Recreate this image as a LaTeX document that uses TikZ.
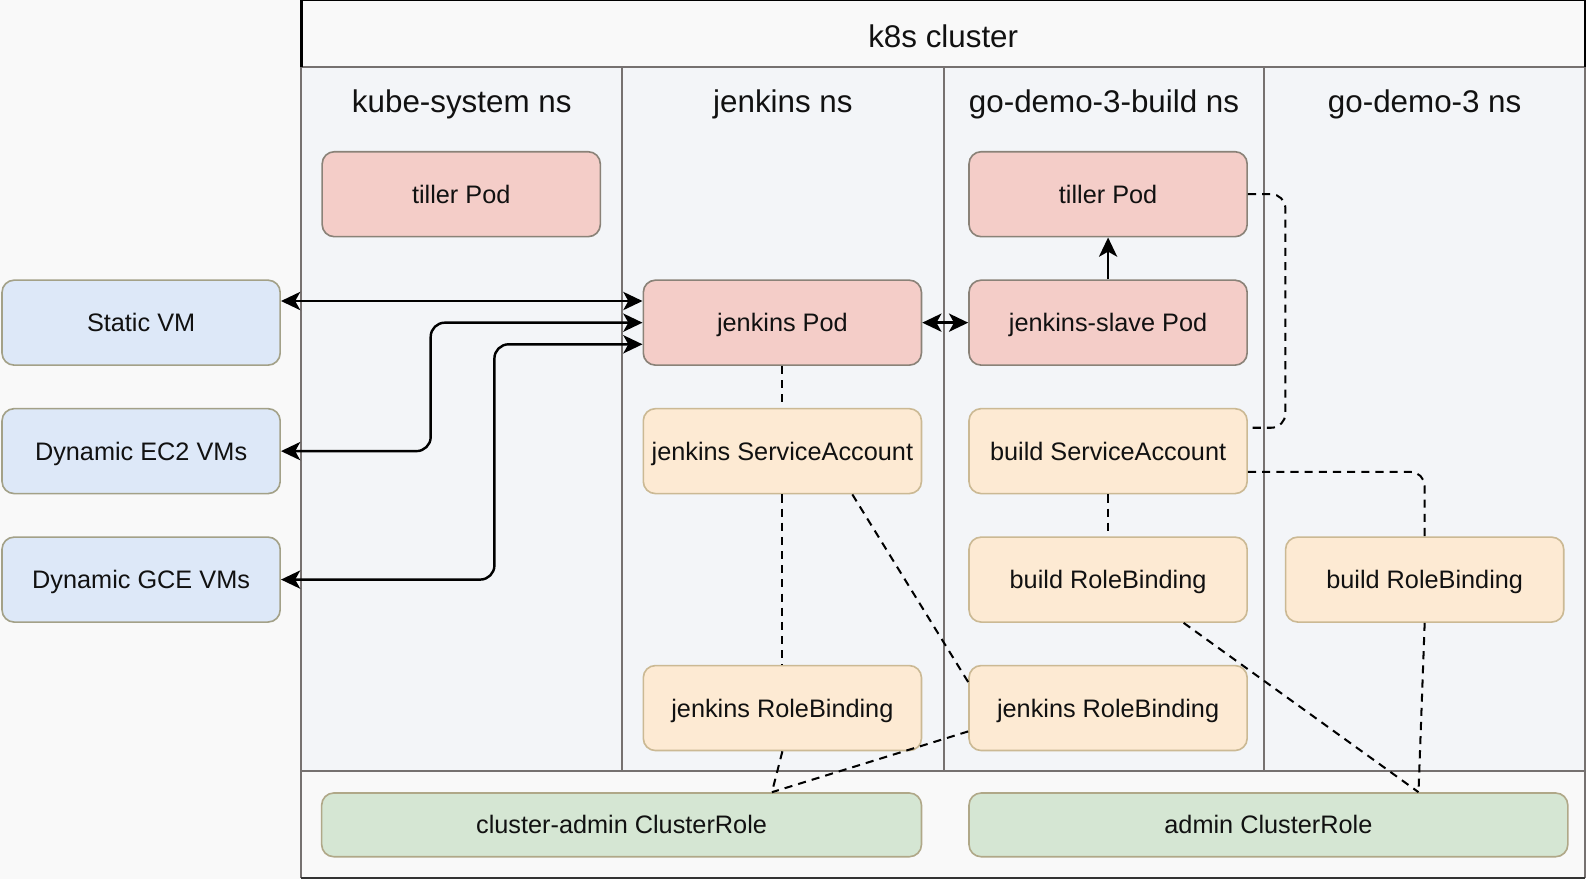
\documentclass[tikz,border=0pt]{standalone}
\usepackage{fontspec}
\setmainfont{Liberation Sans}
\usetikzlibrary{arrows.meta,calc}
\definecolor{pagebg}{HTML}{F9F9F9}
\definecolor{colbg}{HTML}{F3F5F8}
\definecolor{sepgray}{HTML}{767170}
\definecolor{redfill}{HTML}{F4CDC8}
\definecolor{redline}{HTML}{8A8278}
\definecolor{orfill}{HTML}{FDEAD3}
\definecolor{orline}{HTML}{CBB994}
\definecolor{blfill}{HTML}{DDE8F8}
\definecolor{blline}{HTML}{A3A188}
\definecolor{grfill}{HTML}{D5E6D3}
\definecolor{grline}{HTML}{B0A888}
\definecolor{txt}{HTML}{111111}
\tikzset{
  box/.style={rectangle, rounded corners=12pt, line width=1.6pt, minimum width=275pt, minimum height=84pt, inner sep=0pt, text=txt, font=\fontsize{25}{30}\selectfont, text height=20pt, text depth=2pt},
  podbox/.style={box, fill=redfill, draw=redline},
  accbox/.style={box, fill=orfill, draw=orline},
  vmbox/.style={box, fill=blfill, draw=blline},
  rolebox/.style={box, fill=grfill, draw=grline, minimum height=63pt},
  hdr/.style={text=txt, font=\fontsize{31}{36}\selectfont, inner sep=0pt, text height=24pt, text depth=2pt},
  conn/.style={line width=2.4pt, draw=black, rounded corners=14pt, >={Stealth[length=19pt, width=18pt, inset=5pt]}},
  link/.style={line width=2pt, draw=black, dash pattern=on 8pt off 6pt, rounded corners=14pt},
}
\begin{document}
\begin{tikzpicture}[x=1pt, y=-1pt]
\useasboundingbox (0,0) rectangle (1568,869);
\fill[pagebg] (0,0) rectangle (1568,869);
% columns
\fill[colbg] (298,66) rectangle (1567,762);
\draw[sepgray, line width=2pt] (298,66) -- (1567,66);
\draw[sepgray, line width=2pt] (298,762) -- (1567,762);
\foreach \xx in {615,933,1250} \draw[sepgray, line width=2pt] (\xx,66) -- (\xx,762);
\draw[sepgray, line width=2pt] (298,66) -- (298,868);
\draw[sepgray, line width=2pt] (1567,66) -- (1567,868);
% outer frame
\draw[black, line width=2.2pt] (298,66) -- (298,0) -- (1567,0) -- (1567,66);
\draw[black!80, line width=2pt] (298,868) -- (1567,868);
% headers
\node[hdr] (k8s) at (932.5,36) {k8s cluster};
\node[hdr] (hks) at (456.5,100) {kube-system ns};
\node[hdr] (hjn) at (774,100) {jenkins ns};
\node[hdr] (hgb) at (1091.5,100) {go-demo-3-build ns};
\node[hdr] (hgd) at (1408.5,100) {go-demo-3 ns};
% nodes
\node[podbox] (tk) at (456,192) {tiller Pod};
\node[podbox] (tb) at (1095.5,192) {tiller Pod};
\node[vmbox] (sv) at (139.5,319) {Static VM};
\node[vmbox] (ec2) at (139.5,446) {Dynamic EC2 VMs};
\node[vmbox] (gce) at (139.5,573) {Dynamic GCE VMs};
\node[podbox] (jp) at (773.5,319) {jenkins Pod};
\node[podbox] (js) at (1095.5,319) {jenkins-slave Pod};
\node[accbox] (jsa) at (773.5,446) {jenkins ServiceAccount};
\node[accbox] (bsa) at (1095.5,446) {build ServiceAccount};
\node[accbox] (brb) at (1095.5,573) {build RoleBinding};
\node[accbox] (brb3) at (1408.5,573) {build RoleBinding};
\node[accbox] (jrb) at (773.5,700) {jenkins RoleBinding};
\node[accbox] (jrb2) at (1095.5,700) {jenkins RoleBinding};
\node[rolebox, minimum width=593pt] (car) at (614.5,815.5) {cluster-admin ClusterRole};
\node[rolebox, minimum width=592pt] (acr) at (1254,815.5) {admin ClusterRole};
% helper points
\coordinate (jpA) at ($(jp.north west)!0.25!(jp.south west)$);
\coordinate (jpC) at ($(jp.north west)!0.75!(jp.south west)$);
\coordinate (svA) at ($(sv.north east)!0.25!(sv.south east)$);
\coordinate (jsaR) at ($(jsa.south west)!0.75!(jsa.south east)$);
\coordinate (jrb2A) at ($(jrb2.north west)!0.2!(jrb2.south west)$);
\coordinate (jrb2B) at ($(jrb2.north west)!0.77!(jrb2.south west)$);
\coordinate (carT) at ($(car.north west)!0.75!(car.north east)$);
\coordinate (bsaA) at ($(bsa.north east)!0.23!(bsa.south east)$);
\coordinate (bsaB) at ($(bsa.north east)!0.74!(bsa.south east)$);
\coordinate (brbB) at ($(brb.south west)!0.77!(brb.south east)$);
\coordinate (acrT) at ($(acr.north west)!0.75!(acr.north east)$);
% solid connectors
\draw[conn, <->] (svA) -- (jpA);
\draw[conn, <->] (ec2.east) -- ++(148,0) |- (jp.west);
\draw[conn, <->] (gce.east) -- ++(211,0) |- (jpC);
\draw[conn, <->] (jp.east) -- (js.west);
\draw[conn, ->] (js.north) -- (tb.south);
% dashed links
\draw[link] (jp.south) -- (jsa.north);
\draw[link] (jsa.south) -- (jrb.north);
\draw[link] (jsaR) -- (jrb2A);
\draw[link] (jrb2B) -- (carT);
\draw[link] (jrb.south) -- (carT);
\draw[link] (bsa.south) -- (brb.north);
\draw[link] (tb.east) -- ++(37,0) |- (bsaA);
\draw[link] (bsaB) -| (brb3.north);
\draw[link] (brbB) -- (acrT);
\draw[link] (brb3.south) -- (acrT);
\end{tikzpicture}
\end{document}
